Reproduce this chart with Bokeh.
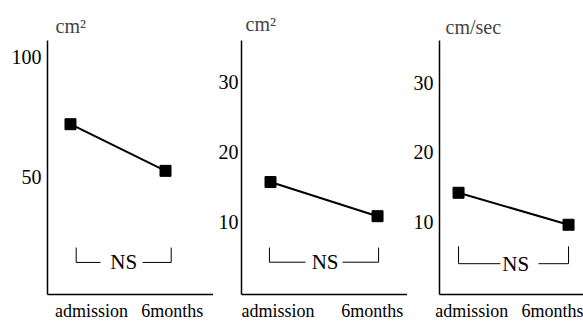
from bokeh.plotting import figure
from bokeh.layouts import row
from bokeh.models import FixedTicker, Range1d
from bokeh.core.properties import value
from bokeh.embed import file_html
from bokeh.resources import INLINE

# ---- data ----
categories = ["admission", "6months"]
units = ["cm\u00b2", "cm\u00b2", "cm/sec"]
panel1_values = [72, 52.5]
panel2_values = [15.7, 10.8]
panel3_values = [14.2, 9.6]
panel1_yticks = [50, 100]
panel2_yticks = [10, 20, 30]
panel3_yticks = [10, 20, 30]
ns_label = "NS"

FONT = "Liberation Serif"

# layout / style settings per panel
panels = [
    dict(values=panel1_values, yticks=panel1_yticks, unit=units[0], width=213,
         mbl=47, mbr=0, xr=(-0.242, 1.505), yr=(0.8, 107),
         xt=[0.22, 1.07], title_off=8, title_sb=8, ysb=6,
         br=dict(l=0.06, r=1.06, lo=14.2, hi=20.4, gl=0.316, gr=0.758, t=0.56)),
    dict(values=panel2_values, yticks=panel2_yticks, unit=units[1], width=194,
         mbl=28, mbr=0, xr=(-0.271, 1.28), yr=(-0.43, 36),
         xt=[0.07, 0.95], title_off=4, title_sb=11, ysb=3,
         br=dict(l=-0.01, r=1.01, lo=4.2, hi=6.3, gl=0.327, gr=0.673, t=0.51)),
    dict(values=panel3_values, yticks=panel3_yticks, unit=units[2], width=176,
         mbl=32, mbr=0, xr=(-0.173, 1.136), yr=(-0.43, 36.1),
         xt=[0.12, 0.89], title_off=6, title_sb=6, ysb=6,
         br=dict(l=0.0, r=1.0, lo=4.0, hi=6.5, gl=0.38, gr=0.727, t=0.52)),
]

figs = []
for cfg in panels:
    p = figure(width=cfg["width"], height=323, output_backend="svg",
               toolbar_location=None, min_border_left=cfg["mbl"],
               min_border_right=cfg["mbr"], min_border_top=40,
               min_border_bottom=28,
               x_range=Range1d(*cfg["xr"]), y_range=Range1d(*cfg["yr"]))
    p.outline_line_color = None
    p.grid.visible = False
    p.background_fill_color = "white"
    p.border_fill_color = "white"

    p.title.text = cfg["unit"]
    p.title.text_font = FONT
    p.title.text_font_size = "20px"
    p.title.text_font_style = "normal"
    p.title.align = "left"
    p.title.offset = cfg["title_off"]
    p.title.standoff = cfg["title_sb"]

    xs = list(range(len(categories)))
    p.line(xs, cfg["values"], line_color="black", line_width=2)
    p.scatter(xs, cfg["values"], marker="square", size=11,
              fill_color="black", line_color="black")

    # NS bracket
    b = cfg["br"]
    p.line([b["l"], b["l"], b["gl"]], [b["hi"], b["lo"], b["lo"]],
           line_color="black", line_width=1)
    p.line([b["gr"], b["r"], b["r"]], [b["lo"], b["lo"], b["hi"]],
           line_color="black", line_width=1)
    p.text([b["t"]], [b["lo"]], text=[ns_label], text_font=value(FONT),
           text_font_size="21px", text_align="center", text_baseline="middle",
           text_color="black")

    # axes
    for ax in (p.xaxis[0], p.yaxis[0]):
        ax.axis_line_color = "black"
        ax.axis_line_width = 1.5
        ax.major_tick_out = 0
        ax.major_tick_in = 0
        ax.minor_tick_out = 0
        ax.minor_tick_in = 0
        ax.major_label_text_font = FONT
        ax.major_label_text_color = "black"
    p.yaxis.ticker = FixedTicker(ticks=cfg["yticks"])
    p.yaxis.major_label_text_font_size = "20px"
    p.yaxis.major_label_standoff = cfg["ysb"]
    p.xaxis.ticker = FixedTicker(ticks=cfg["xt"])
    p.xaxis.major_label_overrides = {cfg["xt"][i]: categories[i] for i in range(len(categories))}
    p.xaxis.major_label_text_font_size = "18px"
    p.xaxis.major_label_standoff = 6
    figs.append(p)

layout = row(*figs, spacing=0)
open("out.html", "w").write(file_html(layout, INLINE))
